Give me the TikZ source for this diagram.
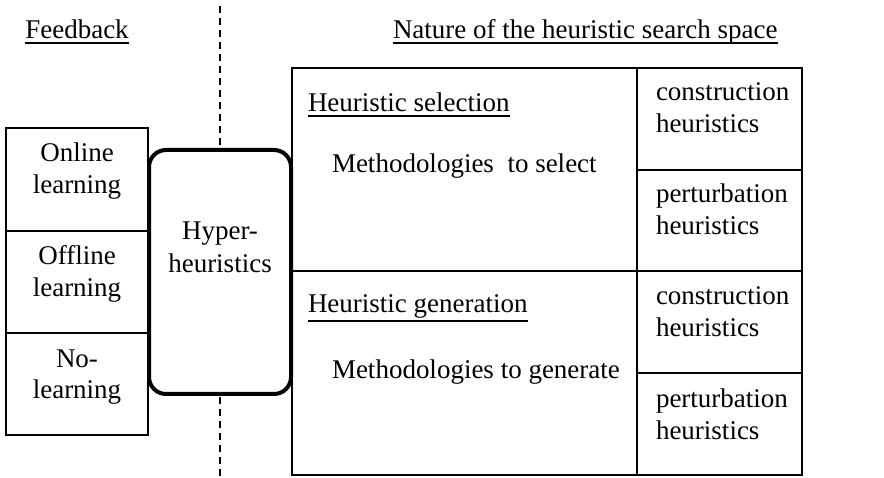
\documentclass[tikz,border=0pt]{standalone}
\usepackage{fontspec}
\setmainfont{Liberation Serif}
\begin{document}
\begin{tikzpicture}[x=1pt,y=-1pt,
  every node/.style={font=\fontsize{27}{32}\selectfont, inner sep=0pt, outer sep=0pt},
  lt/.style={anchor=base west},
  ct/.style={anchor=base},
  box/.style={draw, line width=1.3pt, minimum width=#1},
  hbox/.style={draw, line width=4pt, rounded corners=17pt, minimum width=142pt, minimum height=244pt},
  ul/.style={line width=1.5pt},
  sep/.style={line width=1.3pt, dash pattern=on 7pt off 5pt}]
\useasboundingbox (0,0) rectangle (884,478);

% left feedback boxes
\node[box=142pt, minimum height=103pt] (online) at (77,179.5) {};
\node[box=142pt, minimum height=102pt] (offline) at (77,282) {};
\node[box=142pt, minimum height=102pt] (nolearn) at (77,384) {};

% hyper-heuristics box
\node[hbox] (hyper) at (220,272) {};

% table cells
\node[box=345pt, minimum height=203pt] (sel) at (464.5,169.5) {};
\node[box=345pt, minimum height=204pt] (gen) at (464.5,373) {};
\node[box=165pt, minimum height=102pt] (c1) at (719.5,119) {};
\node[box=165pt, minimum height=101pt] (p1) at (719.5,220.5) {};
\node[box=165pt, minimum height=102pt] (c2) at (719.5,322) {};
\node[box=165pt, minimum height=102pt] (p2) at (719.5,424) {};

% dashed separator
\coordinate (dtop) at (220,6);
\coordinate (dbot) at (220,478);
\draw[sep] (dtop) -- ([yshift=5pt]hyper.north);
\draw[sep] ([yshift=-3pt]hyper.south) -- (dbot);

% headings
\node[ct] (fb) at (77,39) {Feedback};
\node[lt] (nat) at (393,39) {Nature of the heuristic search space};
\draw[ul] ([yshift=-4pt]fb.base west) -- ([yshift=-4pt]fb.base east);
\draw[ul] ([yshift=-4pt]nat.base west) -- ([yshift=-4pt]nat.base east);

% feedback texts
\node[ct] (t1a) at (77,162) {Online};
\node[ct] (t1b) at (77,194) {learning};
\node[ct] (t2a) at (77,265) {Offline};
\node[ct] (t2b) at (77,297) {learning};
\node[ct] (t3a) at (77,367) {No-};
\node[ct] (t3b) at (77,399) {learning};

% hyper text
\node[ct] (ha) at (220,240) {Hyper-};
\node[ct] (hb) at (220,273) {heuristics};

% selection / generation
\node[lt] (hs) at (308,112) {Heuristic selection};
\draw[ul] ([yshift=-4pt]hs.base west) -- ([yshift=-4pt]hs.base east);
\node[lt] (ms) at (332,173) {Methodologies~ to select};
\node[lt] (hg) at (308,313) {Heuristic generation};
\draw[ul] ([yshift=-8pt]hg.base west) -- ([yshift=-8pt]hg.base east);
\node[lt] (mg) at (332,378) {Methodologies to generate};

% right column texts
\node[lt] (c1a) at (656,101) {construction};
\node[lt] (c1b) at (656,133) {heuristics};
\node[lt] (p1a) at (656,203) {perturbation};
\node[lt] (p1b) at (656,235) {heuristics};
\node[lt] (c2a) at (656,305) {construction};
\node[lt] (c2b) at (656,337) {heuristics};
\node[lt] (p2a) at (656,407) {perturbation};
\node[lt] (p2b) at (656,439) {heuristics};
\end{tikzpicture}
\end{document}
